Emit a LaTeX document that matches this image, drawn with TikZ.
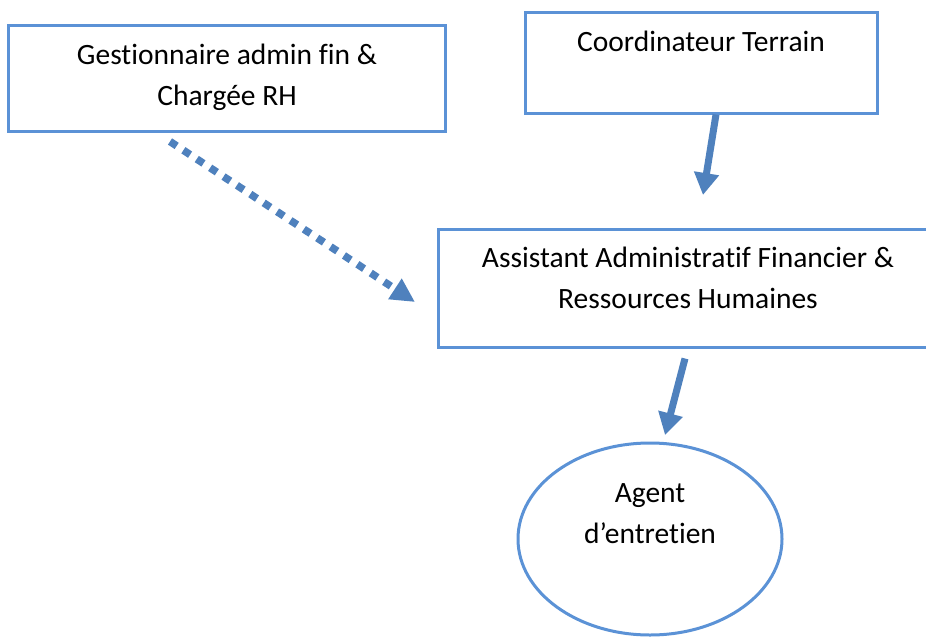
\documentclass[tikz,border=0pt]{standalone}
\usepackage{fontspec}
\setmainfont{Carlito}[Ligatures=NoCommon]
\usetikzlibrary{arrows.meta,shapes.geometric}
\definecolor{boxblue}{RGB}{91,146,214}
\definecolor{arrblue}{RGB}{79,129,189}
\begin{document}
\begin{tikzpicture}[x=1pt,y=-1pt,
  box/.style={draw=boxblue, line width=3pt, inner sep=0pt, fill=white},
  lbl/.style={font=\fontsize{29.5}{41}\selectfont, anchor=base, inner sep=0pt, text=black},
  conn/.style={draw=arrblue, line width=7pt, -{Triangle[length=22pt,width=24pt]}},
  dotconn/.style={draw=arrblue, line width=7.5pt, dash pattern=on 8pt off 8pt, -{Triangle[length=24pt,width=23pt]}}
]
\clip (0,0) rectangle (926,637);
\fill[white] (0,0) rectangle (926,637);
% shapes
\node[box, rectangle, minimum width=437pt, minimum height=106pt] (g) at (227,78) {};
\node[box, rectangle, minimum width=352pt, minimum height=101pt] (c) at (701,62.5) {};
\node[box, rectangle, minimum width=500pt, minimum height=118pt] (a) at (688,288) {};
\node[box, ellipse, minimum width=264pt, minimum height=192pt] (e) at (650,539) {};
% texts
\node[lbl] (g1) at (227,64) {Gestionnaire admin fin \&};
\node[lbl] (g2) at (227,105) {Chargée RH};
\node[lbl] (c1) at (701,51) {Coordinateur Terrain};
\node[lbl] (a1) at (688,267) {Assistant Administratif Financier \&};
\node[lbl] (a2) at (688,308) {Ressources Humaines};
\node[lbl] (e1) at (650,502) {Agent};
\node[lbl] (e2) at (650,543) {d’entretien};
% connectors
\path (c.south) ++(15,0) coordinate (c2s);
\coordinate (c2e) at (703,195);
\draw[conn] (c2s) -- (c2e);
\path (a.south) ++(-3,10) coordinate (a2s);
\coordinate (a2e) at (665,435);
\draw[conn] (a2s) -- (a2e);
\path (g.south) ++(-57,9) coordinate (g2s);
\coordinate (g2e) at (415,302);
\draw[dotconn] (g2s) -- (g2e);
\end{tikzpicture}
\end{document}
